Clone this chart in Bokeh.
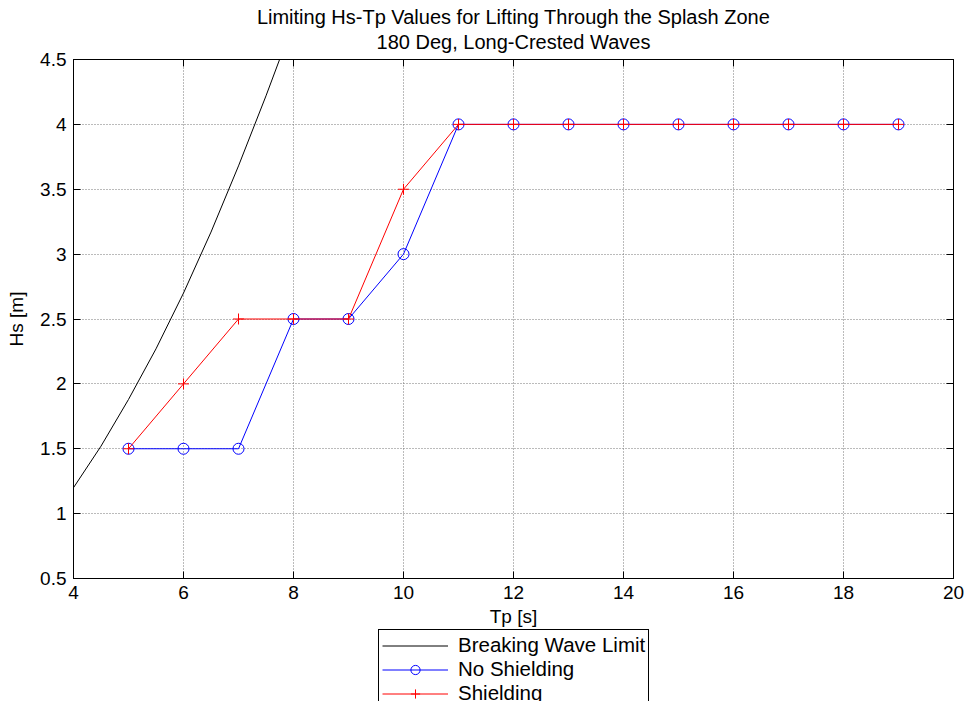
from bokeh.plotting import figure
from bokeh.layouts import column
from bokeh.models import Range1d, LinearAxis, FixedTicker, Legend, LegendItem, Title
from bokeh.embed import file_html
from bokeh.resources import INLINE

# ---- data ----
tp_break = [4.0, 4.5, 5.0, 5.5, 6.0, 6.5, 7.0, 7.5, 7.8]
hs_break = [1.20, 1.52, 1.88, 2.27, 2.70, 3.17, 3.68, 4.22, 4.56]

tp = [5, 6, 7, 8, 9, 10, 11, 12, 13, 14, 15, 16, 17, 18, 19]
hs_no_shield = [1.5, 1.5, 1.5, 2.5, 2.5, 3.0, 4.0, 4.0, 4.0, 4.0, 4.0, 4.0, 4.0, 4.0, 4.0]
hs_shield = [1.5, 2.0, 2.5, 2.5, 2.5, 3.5, 4.0, 4.0, 4.0, 4.0, 4.0, 4.0, 4.0, 4.0, 4.0]

x_ticks = [4, 6, 8, 10, 12, 14, 16, 18, 20]
x_tick_labels = ["4", "6", "8", "10", "12", "14", "16", "18", "20"]
y_ticks = [0.5, 1.0, 1.5, 2.0, 2.5, 3.0, 3.5, 4.0, 4.5]
y_tick_labels = ["0.5", "1", "1.5", "2", "2.5", "3", "3.5", "4", "4.5"]

title_1 = "Limiting Hs-Tp Values for Lifting Through the Splash Zone"
title_2 = "180 Deg, Long-Crested Waves"
x_label = "Tp [s]"
y_label = "Hs [m]"
names = ["Breaking Wave Limit", "No Shielding", "Shielding"]

FONT = "Liberation Sans"
BLUE = "#0000ff"
RED = "#ff0000"

p = figure(frame_width=880, frame_height=519, output_backend="svg", toolbar_location=None,
           x_range=Range1d(4, 20), y_range=Range1d(0.5, 4.5), title=None,
           min_border_left=73, min_border_right=12, min_border_top=59,
           min_border_bottom=0)
p.background_fill_color = "white"
p.border_fill_color = "white"
p.outline_line_color = "black"
p.outline_line_alpha = 1.0
p.outline_line_width = 1

# axes
p.xaxis.ticker = FixedTicker(ticks=x_ticks)
p.xaxis.major_label_overrides = {t: l for t, l in zip(x_ticks, x_tick_labels)}
p.yaxis.ticker = FixedTicker(ticks=y_ticks)
p.yaxis.major_label_overrides = {t: l for t, l in zip(y_ticks, y_tick_labels)}
p.xaxis.axis_label = x_label
p.yaxis.axis_label = y_label
for ax in [p.xaxis[0], p.yaxis[0]]:
    ax.major_tick_in = 7
    ax.major_tick_out = 0
    ax.minor_tick_in = 0
    ax.minor_tick_out = 0
    ax.axis_line_color = "black"
    ax.major_tick_line_color = "black"
    ax.major_label_text_font = FONT
    ax.major_label_text_font_size = "19px"
    ax.major_label_text_color = "black"
    ax.major_label_text_line_height = 1.0
    ax.axis_label_text_font = FONT
    ax.axis_label_text_font_size = "19px"
    ax.axis_label_text_font_style = "normal"
    ax.axis_label_text_color = "black"
    ax.axis_label_text_line_height = 1.0
p.xaxis.major_label_standoff = 7
p.xaxis.axis_label_standoff = 4
p.yaxis.major_label_standoff = 7
p.yaxis.axis_label_standoff = 10

for loc, ticks in (("right", y_ticks), ("above", x_ticks)):
    ax2 = LinearAxis(ticker=FixedTicker(ticks=ticks),
                     major_label_overrides={t: "" for t in ticks},
                     major_label_standoff=0, major_tick_in=7, major_tick_out=0,
                     minor_tick_in=0, minor_tick_out=0, axis_line_color="black",
                     major_tick_line_color="black")
    p.add_layout(ax2, loc)

# grid
p.xgrid.ticker = FixedTicker(ticks=x_ticks)
p.ygrid.ticker = FixedTicker(ticks=y_ticks)
for g in (p.xgrid[0], p.ygrid[0]):
    g.grid_line_color = "#777777"
    g.grid_line_dash = "1 2"
    g.grid_line_width = 1

# titles
p.add_layout(Title(text=title_2, align="center", text_font=FONT, text_font_size="20px",
                   text_font_style="normal", text_color="black", standoff=13), "above")
p.add_layout(Title(text=title_1, align="center", text_font=FONT, text_font_size="20px",
                   text_font_style="normal", text_color="black", standoff=-11), "above")

# series
p.line(tp_break, hs_break, line_color="black", line_width=1)
p.line(tp, hs_no_shield, line_color=BLUE, line_width=1)
p.scatter(tp, hs_no_shield, marker="circle", size=11, fill_color=None,
          line_color=BLUE, line_width=1)
p.line(tp, hs_shield, line_color=RED, line_width=1)
p.scatter(tp, hs_shield, marker="cross", size=11, line_color=RED, line_width=1)

# legend strip below the axes (same series, drawn only as legend samples)
leg = figure(width=965, height=74, output_backend="svg", toolbar_location=None,
             x_range=Range1d(100, 101), y_range=Range1d(100, 101), title=None,
             min_border=0, x_axis_location=None, y_axis_location=None)
leg.grid.visible = False
leg.outline_line_color = None
leg.background_fill_color = "white"
leg.border_fill_color = "white"
l_break = leg.line(tp_break, hs_break, line_color="black", line_width=1)
l_ns = leg.line(tp, hs_no_shield, line_color=BLUE, line_width=1)
m_ns = leg.scatter(tp, hs_no_shield, marker="circle", size=11, fill_color=None,
                   line_color=BLUE, line_width=1)
l_s = leg.line(tp, hs_shield, line_color=RED, line_width=1)
m_s = leg.scatter(tp, hs_shield, marker="cross", size=11, line_color=RED, line_width=1)

legend = Legend(items=[LegendItem(label=names[0], renderers=[l_break]),
                       LegendItem(label=names[1], renderers=[l_ns, m_ns]),
                       LegendItem(label=names[2], renderers=[l_s, m_s])],
                location=(305, -6), orientation="vertical")
legend.label_text_font = FONT
legend.label_text_font_size = "20.5px"
legend.label_text_line_height = 1.0
legend.label_text_color = "black"
legend.label_height = 23
legend.glyph_height = 23
legend.glyph_width = 66
legend.spacing = 0
legend.padding = 3
legend.margin = 0
legend.label_standoff = 10
legend.border_line_color = "black"
legend.border_line_width = 1
legend.border_line_alpha = 1.0
legend.background_fill_color = "white"
legend.background_fill_alpha = 1.0
leg.add_layout(legend)

layout = column(p, leg, spacing=0)
open("out.html", "w").write(file_html(layout, INLINE))
